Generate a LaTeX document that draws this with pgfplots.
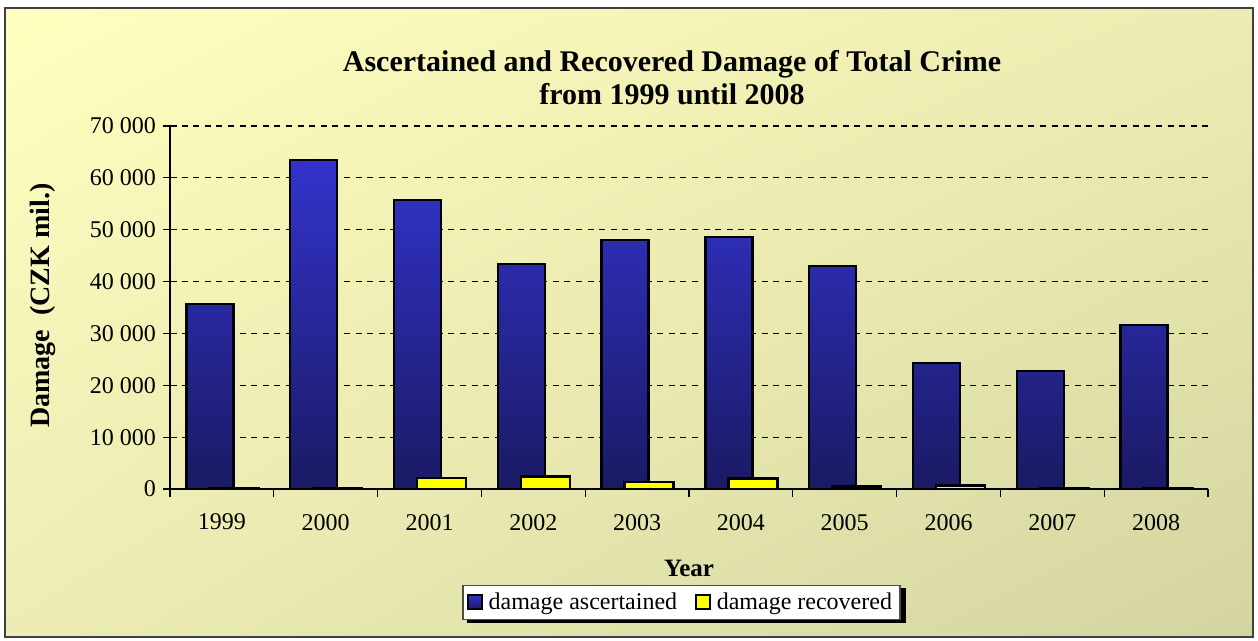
\documentclass[border=0pt]{standalone}
\usepackage{pgfplots}
\pgfplotsset{compat=1.18}
\usepackage{fontspec}
\setmainfont{Liberation Serif}
\usetikzlibrary{shadings,backgrounds}

\definecolor{bgA}{RGB}{255,255,192}
\definecolor{bgB}{RGB}{236,236,178}
\definecolor{bgC}{RGB}{236,236,180}
\definecolor{bgD}{RGB}{212,212,160}
\definecolor{barTop}{RGB}{51,51,204}
\definecolor{barBot}{RGB}{26,26,100}
\definecolor{recov}{RGB}{255,255,0}

\begin{document}
\begin{tikzpicture}
% page = 1258 x 641 px, 1 px = 0.5pt
\useasboundingbox (0pt,0pt) rectangle (629pt,-320.5pt);

\node[font=\fontsize{15}{16.5}\selectfont\bfseries, align=center]
  at (336pt,-39pt) {Ascertained and Recovered Damage of Total Crime\\from 1999 until 2008};

\begin{axis}[
    at={(85pt,-244.5pt)}, anchor=south west,
    scale only axis,
    width=519pt, height=181.5pt,
    xmin=-0.5, xmax=9.5,
    ymin=0, ymax=70000,
    axis x line*=bottom, axis y line*=left,
    axis line style={-, line width=0.6pt},
    xtick={0,...,9},
    xticklabels={1999,2000,2001,2002,2003,2004,2005,2006,2007,2008},
    minor xtick={-0.5,0.5,...,9.5},
    major x tick style={draw=none},
    minor x tick style={line width=0.6pt, black},
    xtick align=outside,
    minor tick length=4pt,
    ytick={0,10000,...,70000},
    ytick align=center,
    major tick length=7pt,
    major y tick style={line width=0.6pt, black},
    scaled y ticks=false,
    yticklabel style={/pgf/number format/.cd, 1000 sep={\ }, assume math mode=true},
    ticklabel style={font=\fontsize{12}{14}\selectfont},
    xticklabel style={yshift=-2pt},
    ymajorgrids,
    grid style={dashed, black, line width=0.6pt, dash pattern=on 3pt off 2.8pt},
    xlabel={\textbf{Year}},
    xlabel style={font=\fontsize{12.5}{14}\selectfont, at={(0.5,-0.2176)}, anchor=center},
    ylabel={\textbf{Damage\ \ (CZK mil.)}},
    ylabel style={font=\fontsize{14}{16}\selectfont, at={(-0.1225,0.505)}, anchor=center, rotate=0},
    legend columns=2,
    legend style={name=leg, at={(0.4928,-0.3127)}, anchor=center, draw=black!70, fill=white,
      font=\fontsize{12}{14}\selectfont, line width=0.6pt,
      /tikz/every even column/.append style={column sep=7pt},
      /tikz/every odd column/.append style={column sep=1pt},
      inner xsep=2pt, inner ysep=1.5pt},
    legend image code/.code={\draw[#1, line width=0.8pt] (0pt,-3.2pt) rectangle (7pt,3.8pt);},
]
\addplot[ybar, bar width=23.5pt, bar shift=-6pt, draw=black, line width=1.2pt,
         top color=barTop, bottom color=barBot] coordinates {
  (0,35700) (1,63450) (2,55750) (3,43400) (4,48000)
  (5,48600) (6,43000) (7,24300) (8,22750) (9,31600)
};
\addplot[ybar, bar width=24.5pt, bar shift=6pt, draw=black, line width=1.2pt,
         fill=recov] coordinates {
  (0,200) (1,200) (2,2100) (3,2400) (4,1300)
  (5,2000) (6,450) (7,650) (8,150) (9,150)
};
\legend{damage ascertained, damage recovered}
\end{axis}

\begin{pgfonlayer}{background}
\shade[upper left=bgA, upper right=bgB, lower left=bgC, lower right=bgD]
  (2.5pt,-4pt) rectangle (626.5pt,-318.5pt);
\draw[line width=1pt, black!75] (2.5pt,-4pt) rectangle (626.5pt,-318.5pt);
\fill[black] ([xshift=2.5pt,yshift=-1.5pt]leg.south west) rectangle ([xshift=2.5pt,yshift=-1.5pt]leg.north east);
\end{pgfonlayer}
\end{tikzpicture}
\end{document}
